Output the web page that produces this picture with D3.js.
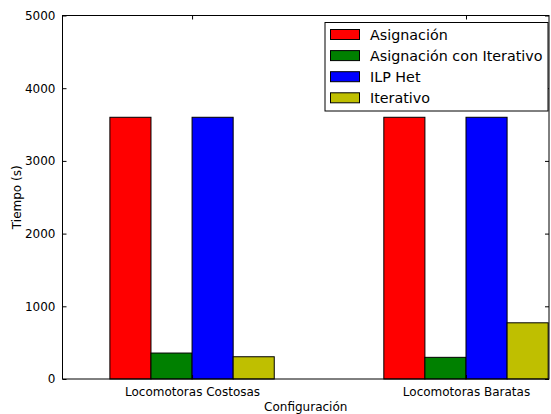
<!DOCTYPE html>
<html>
<head>
<meta charset="utf-8">
<script src="https://cdn.jsdelivr.net/npm/d3@7"></script>
<style>
  body { margin: 0; background: #fff; }
  text { font-family: "DejaVu Sans", sans-serif; fill: #000; }
</style>
</head>
<body>
<svg width="551" height="414"></svg>
<script>
// data
var categories = ["Locomotoras Costosas", "Locomotoras Baratas"];
var seriesNames = ["Asignación", "Asignación con Iterativo", "ILP Het", "Iterativo"];
var asignacion = [3600, 3600];
var asignacionIter = [357, 298];
var ilpHet = [3600, 3600];
var iterativo = [306, 773];
var yTicks = [0, 1000, 2000, 3000, 4000, 5000];

var seriesValues = [asignacion, asignacionIter, ilpHet, iterativo];
var colors = ["#ff0000", "#008000", "#0000ff", "#bfbf00"];

var margin = {left: 62.5, top: 15.5, right: 2, bottom: 35};
var W = 551, H = 414;
var barW = 0.15;

var svg = d3.select("svg");

var x = d3.scaleLinear().domain([-0.473, 1.303]).range([margin.left, W - margin.right]);
var y = d3.scaleLinear().domain([0, 5000]).range([H - margin.bottom, margin.top]);

// bars
seriesValues.forEach(function(vals, s){
  svg.append("g").selectAll("rect")
      .data(vals)
    .enter().append("rect")
      .attr("x", function(d, i){ return x(i - 2 * barW + s * barW); })
      .attr("width", function(d, i){ return x(barW) - x(0); })
      .attr("y", function(d){ return y(d); })
      .attr("height", function(d){ return y(0) - y(d); })
      .attr("fill", colors[s])
      .attr("stroke", "#000")
      .attr("stroke-width", 1);
});

// axes (ticks inward, on all four sides)
var yAxisL = d3.axisLeft(y).tickValues(yTicks).tickSize(-4).tickPadding(7).tickFormat(d3.format("d"));
var yAxisR = d3.axisRight(y).tickValues(yTicks).tickSize(-4).tickFormat("");
var xAxisB = d3.axisBottom(x).tickValues([0, 1]).tickSize(-4).tickPadding(8)
  .tickFormat(function(d){ return categories[d]; });
var xAxisT = d3.axisTop(x).tickValues([0, 1]).tickSize(-4).tickFormat("");

function styleAxis(g){
  g.select(".domain").remove();
  g.selectAll("line").attr("stroke", "#000");
  g.selectAll("text").attr("font-size", "12px").attr("font-family", "DejaVu Sans");
}

svg.append("g").attr("transform", "translate(" + margin.left + ",0)").call(yAxisL).call(styleAxis);
svg.append("g").attr("transform", "translate(" + (W - margin.right) + ",0)").call(yAxisR).call(styleAxis);
svg.append("g").attr("transform", "translate(0," + (H - margin.bottom) + ")").call(xAxisB).call(styleAxis);
svg.append("g").attr("transform", "translate(0," + margin.top + ")").call(xAxisT).call(styleAxis);

// frame
svg.append("rect")
  .attr("x", margin.left).attr("y", margin.top)
  .attr("width", W - margin.right - margin.left)
  .attr("height", H - margin.bottom - margin.top)
  .attr("fill", "none").attr("stroke", "#000").attr("stroke-width", 1);

// axis labels
svg.append("text")
  .attr("x", (margin.left + W - margin.right) / 2)
  .attr("y", 411)
  .attr("text-anchor", "middle")
  .attr("font-size", "12px")
  .text("Configuración");

svg.append("text")
  .attr("transform", "translate(21," + ((margin.top + H - margin.bottom) / 2) + ") rotate(-90)")
  .attr("text-anchor", "middle")
  .attr("font-size", "12px")
  .text("Tiempo (s)");

// legend
var legend = svg.append("g").attr("transform", "translate(325,22.5)");
legend.append("rect")
  .attr("width", 223).attr("height", 88.5)
  .attr("fill", "#fff").attr("stroke", "#000").attr("stroke-width", 1);

var item = legend.selectAll("g.item")
    .data(seriesNames)
  .enter().append("g")
    .attr("class", "item")
    .attr("transform", function(d, i){ return "translate(0," + (12 + i * 21.1) + ")"; });

item.append("rect")
  .attr("x", 5.5).attr("y", -5)
  .attr("width", 29).attr("height", 10)
  .attr("fill", function(d, i){ return colors[i]; })
  .attr("stroke", "#000").attr("stroke-width", 1);

item.append("text")
  .attr("x", 45).attr("y", 5)
  .attr("font-size", "14.3px")
  .text(function(d){ return d; });
</script>
</body>
</html>
